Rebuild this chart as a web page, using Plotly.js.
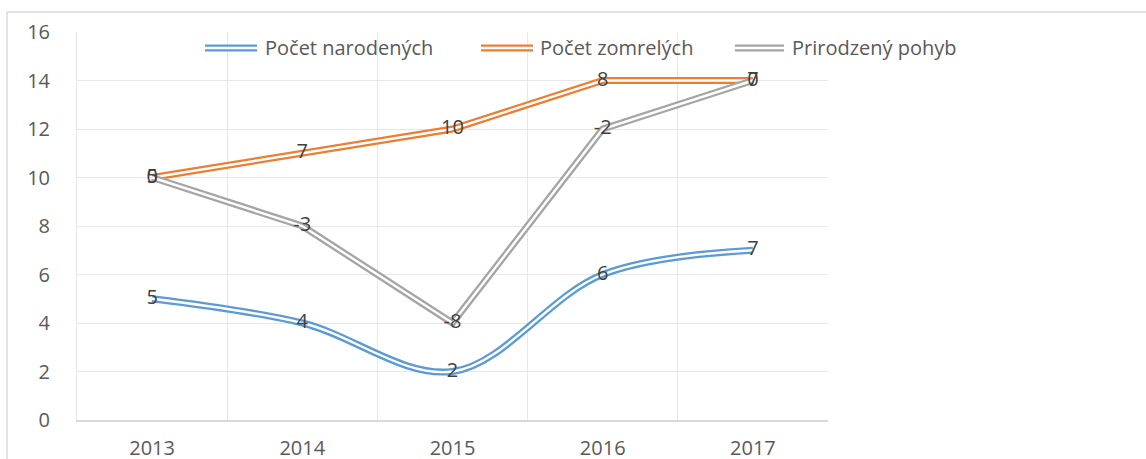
<!DOCTYPE html>
<html>
<head>
<meta charset="utf-8">
<script src="https://cdn.plot.ly/plotly-3.0.1.min.js"></script>
<style>html,body{margin:0;padding:0;background:#fff;}#chart{width:1146px;height:459px;}</style>
</head>
<body>
<div id="chart"></div>
<script>
// Data (stacked line chart, as in the source)
const years = ['2013', '2014', '2015', '2016', '2017'];
const seriesNames = ['Počet narodených', 'Počet zomrelých', 'Prirodzený pohyb'];
const narodeni = [5, 4, 2, 6, 7];
const zomreli = [5, 7, 10, 8, 7];
const pohyb = [0, -3, -8, -2, 0];
const seriesValues = [narodeni, zomreli, pohyb];
const colors = ['#5B9BD5', '#ED7D31', '#A5A5A5'];
const shapes = ['spline', 'linear', 'linear'];

// stacked cumulative values
const stacked = [];
let run = years.map(() => 0);
seriesValues.forEach(v => {
  run = run.map((r, i) => r + v[i]);
  stacked.push(run.slice());
});

const traces = [];
seriesValues.forEach((v, k) => {
  traces.push({
    x: years, y: stacked[k], type: 'scatter', mode: 'lines',
    line: {color: colors[k], width: 7, shape: shapes[k], smoothing: 1},
    name: seriesNames[k], showlegend: false, hoverinfo: 'skip'
  });
  traces.push({
    x: years, y: stacked[k], type: 'scatter', mode: 'lines',
    line: {color: '#ffffff', width: 2.4, shape: shapes[k], smoothing: 1},
    showlegend: false, hoverinfo: 'skip'
  });
});
seriesValues.forEach((v, k) => {
  traces.push({
    x: years, y: stacked[k], type: 'scatter', mode: 'text',
    text: v.map(String), textposition: 'middle center',
    textfont: {family: 'Open Sans, sans-serif', size: 20, color: '#404040'},
    showlegend: false, hoverinfo: 'skip', cliponaxis: false
  });
});

// plot area geometry in pixels (for paper-coordinate conversion of decorations)
const L = 77, R = 828, T = 32, B = 420;
const px = x => (x - L) / (R - L);
const py = y => (B - y) / (B - T);

const legendItems = [
  {x0: 205, x1: 257, tx: 263},
  {x0: 481, x1: 533, tx: 538},
  {x0: 735, x1: 784, tx: 790}
];
const legendY = 48;
const layoutShapes = [{
  type: 'rect', xref: 'paper', yref: 'paper',
  x0: px(7), x1: px(1160), y0: py(480), y1: py(12),
  line: {color: '#d9d9d9', width: 1.5}, fillcolor: 'rgba(0,0,0,0)', layer: 'below'
}];
const annotations = [];
legendItems.forEach((it, k) => {
  layoutShapes.push({type: 'line', xref: 'paper', yref: 'paper',
    x0: px(it.x0), x1: px(it.x1), y0: py(legendY), y1: py(legendY),
    line: {color: colors[k], width: 7}});
  layoutShapes.push({type: 'line', xref: 'paper', yref: 'paper',
    x0: px(it.x0), x1: px(it.x1), y0: py(legendY), y1: py(legendY),
    line: {color: '#ffffff', width: 2.4}});
  annotations.push({xref: 'paper', yref: 'paper', x: px(it.tx), y: py(legendY),
    xanchor: 'left', yanchor: 'middle', showarrow: false, text: seriesNames[k],
    font: {family: 'Open Sans, sans-serif', size: 20, color: '#595959'}});
});

const layout = {
  width: 1146, height: 459,
  margin: {l: L, r: 1146 - R, t: T, b: 459 - B, pad: 0},
  paper_bgcolor: '#ffffff', plot_bgcolor: '#ffffff',
  showlegend: false,
  font: {family: 'Open Sans, sans-serif', size: 20, color: '#595959'},
  xaxis: {
    type: 'category', range: [-0.5, 4.5], tickson: 'boundaries',
    showgrid: true, gridcolor: '#e8e8e8', gridwidth: 1,
    showline: true, linecolor: '#d9d9d9', linewidth: 1.5,
    ticks: '', ticklabelstandoff: 9, zeroline: false,
    tickfont: {family: 'Open Sans, sans-serif', size: 20, color: '#595959'},
    fixedrange: true
  },
  yaxis: {
    range: [0, 16], dtick: 2, tick0: 0,
    showgrid: true, gridcolor: '#e8e8e8', gridwidth: 1,
    showline: true, linecolor: '#e8e8e8', linewidth: 1, zeroline: false, ticks: '', ticklabelstandoff: 22,
    tickfont: {family: 'Open Sans, sans-serif', size: 20, color: '#595959'},
    fixedrange: true
  },
  shapes: layoutShapes,
  annotations: annotations
};

Plotly.newPlot('chart', traces, layout, {displayModeBar: false, staticPlot: true});
</script>
</body>
</html>
